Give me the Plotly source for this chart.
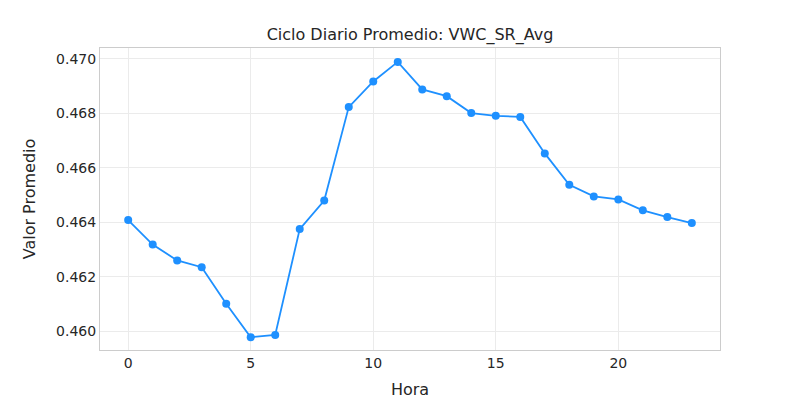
import plotly.graph_objects as go

hora = list(range(24))
valor_promedio = [0.46408, 0.46318, 0.46260, 0.46235, 0.46101, 0.45978, 0.45986, 0.46375,
                  0.46480, 0.46823, 0.46917, 0.46989, 0.46888, 0.46863, 0.46801, 0.46791,
                  0.46787, 0.46653, 0.46538, 0.46495, 0.46484, 0.46444, 0.46419, 0.46397]

fig = go.Figure(go.Scatter(
   x=hora, y=valor_promedio, mode="lines+markers",
   line=dict(color="#1e90ff", width=1.8),
   marker=dict(color="#1e90ff", size=8),
))

axis_style = dict(showgrid=True, gridcolor="#ebebeb", showline=True, linecolor="#cccccc",
                  mirror=True, zeroline=False, ticks="", tickfont=dict(size=14, color="#262626"))

# page body adds 8px offset, so margins are shifted accordingly
fig.update_layout(
   width=800, height=400,
   margin=dict(l=92, r=88, t=40, b=53),
   paper_bgcolor="white", plot_bgcolor="white",
   font=dict(family="DejaVu Sans", color="#262626"),
   title=dict(text="Ciclo Diario Promedio: VWC_SR_Avg", x=(92 + 310) / 800, xanchor="center",
              y=1 - 26 / 400, yanchor="middle", font=dict(size=16)),
   showlegend=False,
)
fig.update_xaxes(axis_style, range=[-1.15, 24.15], tickvals=[0, 5, 10, 15, 20],
                 title=dict(text="Hora", font=dict(size=16), standoff=14))
fig.update_yaxes(axis_style, range=[0.45931, 0.47040],
                 tickvals=[0.460, 0.462, 0.464, 0.466, 0.468, 0.470], tickformat=".3f",
                 title=dict(text="Valor Promedio", font=dict(size=16), standoff=16))

fig.write_html("out.html")
